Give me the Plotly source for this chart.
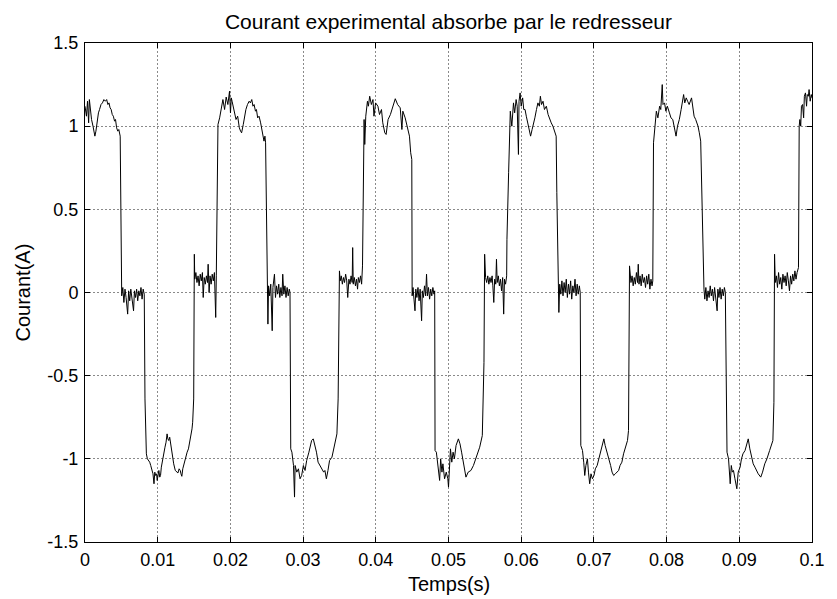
import plotly.graph_objects as go

# Measured line current of the rectifier: (time in ms, current in A) per half-cycle segment
pos_0 = [(0.0, 1.12), (0.2, 1.06), (0.35, 1.15), (0.5, 1.02), (0.6, 1.16), (0.75, 1.08), (0.9, 1.04),
         (1.1, 1.0), (1.25, 0.96), (1.36, 0.94), (1.5, 0.97), (1.7, 1.05), (1.85, 1.08), (2.0, 1.1),
         (2.2, 1.13), (2.4, 1.14), (2.6, 1.16), (2.8, 1.15), (2.98, 1.16), (3.15, 1.13), (3.3, 1.14),
         (3.45, 1.11), (3.6, 1.1), (3.75, 1.07), (3.9, 1.06), (4.07, 1.03), (4.2, 1.04), (4.35, 0.99),
         (4.51, 0.97), (4.65, 0.98), (4.84, 0.94), (5.05, -0.02)]
zero_1 = [(5.2, 0.03), (5.35, -0.06), (5.5, 0.02), (5.65, -0.03), (5.87, -0.13), (6.0, 0.01), (6.15, -0.05),
          (6.3, 0.02), (6.45, -0.04), (6.68, -0.11), (6.8, 0.01), (6.95, -0.03), (7.1, 0.02), (7.25, -0.05),
          (7.4, 0.01), (7.55, -0.02), (7.7, 0.03), (7.85, -0.04), (8.0, 0.02), (8.15, -0.01),
          (8.25, -0.64), (8.33, -0.85), (8.44, -0.97)]
neg_1 = [(8.58, -1.0), (8.9, -1.02), (9.04, -1.04), (9.2, -1.06), (9.35, -1.09), (9.49, -1.15), (9.6, -1.08),
         (9.72, -1.1), (9.85, -1.09), (9.93, -1.13), (10.05, -1.08), (10.16, -1.07), (10.28, -1.11),
         (10.39, -1.10), (10.5, -1.05), (10.61, -1.02), (10.84, -0.96), (11.0, -0.93), (11.15, -0.90),
         (11.29, -0.85), (11.4, -0.88), (11.52, -0.89), (11.65, -0.87), (11.88, -0.94), (12.05, -0.99),
         (12.2, -1.03), (12.42, -1.07), (12.6, -1.08), (12.78, -1.085), (12.95, -1.06), (13.1, -1.07),
         (13.2, -1.09), (13.32, -1.105), (13.45, -1.06), (13.55, -1.04), (13.7, -1.01), (13.86, -0.99),
         (14.05, -0.96), (14.23, -0.94), (14.4, -0.9), (14.59, -0.86), (14.72, -0.82), (14.81, -0.78),
         (14.95, -0.64), (15.04, 0.23)]
zero_2 = [(15.1, 0.08), (15.25, 0.12), (15.4, 0.06), (15.55, 0.1), (15.7, 0.04), (15.85, 0.11), (16.0, 0.07),
          (16.15, 0.12), (16.26, -0.03), (16.4, 0.09), (16.55, 0.05), (16.7, 0.1), (16.85, 0.06), (16.94, 0.17),
          (17.07, 0.0), (17.2, 0.1), (17.35, 0.05), (17.5, 0.11), (17.65, 0.07), (17.8, 0.12), (17.98, -0.15),
          (18.06, 0.1), (18.29, 1.01)]
pos_1 = [(18.52, 1.05), (18.74, 1.12), (18.97, 1.16), (19.2, 1.10), (19.42, 1.175), (19.65, 1.13), (19.88, 1.21),
         (20.01, 1.08), (20.12, 1.17), (20.23, 1.15), (20.4, 1.12), (20.55, 1.09), (20.77, 1.04), (21.0, 1.06),
         (21.23, 0.99), (21.4, 0.97), (21.54, 0.96), (21.77, 1.01), (21.95, 1.06), (22.13, 1.10), (22.35, 1.13),
         (22.58, 1.15), (22.75, 1.14), (22.94, 1.16), (23.1, 1.12), (23.26, 1.13), (23.45, 1.09), (23.58, 1.10),
         (23.75, 1.05), (23.94, 1.06), (24.16, 1.02), (24.3, 0.99), (24.39, 0.97), (24.55, 0.93), (24.62, 0.91),
         (24.75, 0.94), (24.84, 0.90), (25.16, -0.19)]
zero_3 = [(25.25, 0.04), (25.4, -0.02), (25.55, 0.05), (25.75, -0.23), (25.85, 0.03), (26.06, 0.11), (26.2, -0.03),
          (26.35, 0.04), (26.5, -0.01), (26.65, 0.05), (26.8, -0.03), (26.95, 0.03), (27.1, -0.02), (27.2, 0.11),
          (27.35, -0.01), (27.5, 0.04), (27.65, -0.03), (27.8, 0.03), (27.95, -0.02), (28.1, 0.02), (28.2, 0.0),
          (28.3, -0.94)]
neg_2 = [(28.46, -0.96), (28.68, -1.04), (28.82, -1.23), (28.9, -1.04), (29.13, -1.08), (29.36, -1.06),
         (29.58, -1.12), (29.8, -1.10), (30.04, -1.04), (30.27, -1.07), (30.49, -1.01), (30.8, -0.96),
         (31.17, -0.89), (31.4, -0.88), (31.6, -0.91), (31.84, -0.96), (32.06, -1.02), (32.3, -1.04),
         (32.52, -1.06), (32.83, -1.08), (33.0, -1.07), (33.2, -1.12), (33.42, -1.07), (33.64, -1.01),
         (33.97, -0.99), (34.15, -0.95), (34.32, -0.92), (34.5, -0.88), (34.65, -0.85), (34.82, -0.64),
         (35.0, 0.13)]
zero_4 = [(35.1, 0.07), (35.25, 0.1), (35.4, 0.05), (35.55, 0.09), (35.7, 0.06), (35.85, 0.11), (36.0, 0.07),
          (36.14, -0.03), (36.3, 0.08), (36.45, 0.05), (36.6, 0.1), (36.75, 0.06), (36.82, 0.27), (36.9, 0.05),
          (37.05, 0.09), (37.2, 0.04), (37.35, 0.08), (37.49, 0.02), (37.6, 0.09), (37.75, 0.06), (37.9, 0.1),
          (38.05, 0.05), (38.17, 0.16), (38.3, 1.02)]
pos_2 = [(38.39, 1.04), (38.48, 0.89), (38.62, 1.06), (38.85, 1.15), (38.98, 1.12), (39.16, 1.18), (39.39, 1.13),
         (39.61, 1.16), (39.75, 1.06), (39.97, 1.14), (40.29, 1.12), (40.51, 1.07), (40.78, 1.10), (40.96, 1.02),
         (41.24, 0.96), (41.42, 0.95), (41.69, 1.04), (42.01, 1.07), (42.32, 1.11), (42.68, 1.165), (43.0, 1.13),
         (43.36, 1.11), (43.59, 0.98), (43.72, 1.09), (44.04, 1.05), (44.35, 0.99), (44.63, 0.94), (44.8, 0.84),
         (44.95, 0.80), (45.0, -0.02)]
zero_5 = [(45.12, 0.03), (45.25, -0.04), (45.39, -0.11), (45.5, 0.02), (45.65, -0.03), (45.8, 0.03), (45.95, -0.05),
          (46.1, 0.02), (46.3, -0.17), (46.4, 0.01), (46.55, -0.03), (46.7, 0.04), (46.85, -0.02), (46.98, 0.11),
          (47.1, -0.02), (47.25, 0.03), (47.4, -0.04), (47.55, 0.02), (47.7, -0.02), (47.85, 0.03), (48.0, -0.01),
          (48.1, 0.01), (48.15, -0.95)]
neg_3 = [(48.33, -0.96), (48.55, -1.04), (48.78, -1.13), (48.92, -1.0), (49.1, -1.08), (49.23, -1.03),
         (49.46, -1.12), (49.69, -1.08), (49.91, -1.12), (50.0, -1.17), (50.14, -1.02), (50.27, -0.94),
         (50.45, -1.02), (50.63, -0.96), (50.81, -1.0), (51.04, -0.92), (51.36, -0.88), (51.58, -0.91),
         (51.8, -0.96), (52.07, -1.04), (52.4, -1.11), (52.71, -1.08), (53.08, -1.07), (53.43, -1.04),
         (53.75, -1.0), (53.97, -0.98), (54.29, -0.93), (54.65, -0.86), (54.88, -0.42), (54.97, 0.23)]
zero_6 = [(55.1, 0.09), (55.25, 0.06), (55.4, 0.1), (55.55, 0.05), (55.7, 0.09), (55.85, 0.06), (56.0, 0.1),
          (56.1, 0.04), (56.23, -0.06), (56.35, 0.08), (56.5, 0.05), (56.6, 0.2), (56.7, 0.06), (56.85, 0.1),
          (57.0, 0.04), (57.15, 0.08), (57.3, 0.01), (57.45, 0.09), (57.59, -0.13), (57.7, 0.08), (57.85, 0.05),
          (58.0, 0.1), (58.04, 0.32), (58.27, 0.72), (58.4, 0.98)]
pos_3 = [(58.5, 1.09), (58.71, 1.0), (58.94, 1.14), (59.1, 1.08), (59.3, 1.16), (59.45, 1.12), (59.62, 0.83),
         (59.7, 1.15), (59.85, 1.2), (60.0, 1.12), (60.2, 1.17), (60.35, 1.1), (60.53, 1.10), (60.7, 1.06),
         (60.9, 1.02), (61.1, 0.98), (61.29, 0.94), (61.5, 0.98), (61.7, 1.03), (61.88, 1.05), (62.1, 1.1),
         (62.3, 1.14), (62.5, 1.12), (62.64, 1.18), (62.8, 1.13), (63.0, 1.15), (63.2, 1.1), (63.46, 1.12),
         (63.7, 1.07), (63.9, 1.04), (64.13, 1.02), (64.36, 1.0), (64.55, 0.97), (64.73, 0.94), (64.81, 0.94),
         (64.9, 0.6), (65.18, -0.12)]
zero_7 = [(65.3, 0.05), (65.45, -0.01), (65.6, 0.07), (65.75, -0.02), (65.9, 0.06), (66.05, 0.0), (66.2, 0.08),
          (66.35, -0.03), (66.5, 0.05), (66.65, -0.01), (66.8, 0.07), (66.95, -0.04), (67.1, 0.04), (67.25, 0.0),
          (67.4, 0.08), (67.55, -0.02), (67.7, 0.05), (67.85, -0.01), (68.0, 0.04), (68.12, 0.0), (68.2, -0.92)]
neg_4 = [(68.43, -0.95), (68.6, -1.02), (68.74, -1.1), (68.9, -1.04), (69.11, -1.0), (69.25, -1.08),
         (69.42, -1.15), (69.6, -1.09), (69.8, -1.12), (70.01, -1.1), (70.2, -1.06), (70.45, -1.04),
         (70.69, -1.0), (70.9, -0.96), (71.1, -0.92), (71.37, -0.88), (71.55, -0.92), (71.8, -0.96),
         (72.05, -0.99), (72.3, -1.04), (72.5, -1.08), (72.72, -1.1), (72.95, -1.09), (73.2, -1.08),
         (73.4, -1.07), (73.6, -1.04), (73.85, -1.02), (74.08, -0.97), (74.3, -0.94), (74.5, -0.9),
         (74.62, -0.89), (74.76, -0.83), (74.9, 0.16)]
zero_8 = [(75.1, 0.06), (75.25, 0.1), (75.4, 0.04), (75.55, 0.09), (75.7, 0.05), (75.85, 0.12), (76.0, 0.06),
          (76.1, 0.17), (76.2, 0.05), (76.35, 0.1), (76.5, 0.04), (76.65, 0.11), (76.8, 0.06), (76.95, 0.09),
          (77.1, 0.03), (77.25, 0.1), (77.4, 0.05), (77.55, 0.11), (77.7, 0.02), (77.85, 0.08), (78.0, 0.04),
          (78.1, 0.07), (78.2, 0.9)]
pos_4 = [(78.36, 0.99), (78.5, 1.06), (78.59, 1.09), (78.8, 1.05), (79.04, 1.12), (79.2, 1.1), (79.4, 1.25),
         (79.5, 1.13), (79.72, 1.14), (79.9, 1.09), (80.1, 1.12), (80.39, 1.08), (80.6, 1.05), (80.85, 1.04),
         (81.05, 0.99), (81.3, 0.94), (81.5, 1.0), (81.75, 1.04), (82.0, 1.1), (82.34, 1.19), (82.5, 1.14),
         (82.7, 1.17), (82.89, 1.15), (83.1, 1.13), (83.43, 1.17), (83.6, 1.1), (83.78, 1.06), (84.0, 1.04),
         (84.32, 1.0), (84.5, 0.96), (84.69, 0.91), (85.14, 0.02)]
zero_9 = [(85.25, -0.04), (85.4, 0.03), (85.55, -0.05), (85.7, 0.01), (85.85, -0.03), (86.0, 0.04), (86.15, -0.02),
          (86.3, 0.02), (86.45, -0.05), (86.6, 0.03), (86.75, -0.02), (86.95, -0.11), (87.05, 0.02), (87.2, -0.03),
          (87.35, 0.03), (87.5, -0.04), (87.65, 0.02), (87.8, -0.02), (87.95, 0.03), (88.08, 0.0), (88.31, -0.96)]
neg_5 = [(88.52, -1.0), (88.75, -1.15), (88.9, -1.04), (89.05, -1.08), (89.2, -1.07), (89.4, -1.12),
         (89.66, -1.18), (89.85, -1.08), (90.11, -1.05), (90.3, -1.0), (90.5, -0.97), (90.79, -0.95),
         (91.0, -0.91), (91.23, -0.88), (91.45, -0.94), (91.7, -0.98), (91.91, -1.03), (92.15, -1.05),
         (92.37, -1.07), (92.6, -1.09), (92.95, -1.11), (93.2, -1.08), (93.5, -1.03), (93.8, -1.0),
         (94.17, -0.95), (94.4, -0.91), (94.62, -0.89), (94.76, -0.66), (94.85, 0.23)]
zero_10 = [(94.95, 0.06), (95.1, 0.1), (95.25, 0.03), (95.4, 0.12), (95.55, 0.05), (95.7, 0.09), (95.85, 0.02),
           (96.0, 0.11), (96.15, 0.06), (96.3, 0.1), (96.45, 0.04), (96.6, 0.12), (96.75, 0.07), (96.9, 0.01),
           (97.05, 0.1), (97.2, 0.05), (97.35, 0.11), (97.5, 0.07), (97.65, 0.13), (97.8, 0.08), (97.95, 0.12),
           (98.14, 0.15), (98.24, 1.0)]
pos_5 = [(98.33, 1.04), (98.45, 1.0), (98.55, 1.12), (98.7, 1.13), (98.85, 1.05), (98.95, 1.18), (99.1, 1.2),
         (99.25, 1.12), (99.35, 1.19), (99.5, 1.18), (99.6, 1.22), (99.75, 1.15), (99.9, 1.19), (100.0, 1.17)]

segments = [pos_0, zero_1, neg_1, zero_2, pos_1, zero_3, neg_2, zero_4, pos_2, zero_5,
            neg_3, zero_6, pos_3, zero_7, neg_4, zero_8, pos_4, zero_9, neg_5, zero_10, pos_5]

x_tick_vals = [0, 0.01, 0.02, 0.03, 0.04, 0.05, 0.06, 0.07, 0.08, 0.09, 0.1]
x_tick_text = ["0", "0.01", "0.02", "0.03", "0.04", "0.05", "0.06", "0.07", "0.08", "0.09", "0.1"]
y_tick_vals = [-1.5, -1, -0.5, 0, 0.5, 1, 1.5]
y_tick_text = ["-1.5", "-1", "-0.5", "0", "0.5", "1", "1.5"]

time_s = [t / 1000.0 for seg in segments for t, _ in seg]
current = [i for seg in segments for _, i in seg]

font_family = "Liberation Sans, Arial, Helvetica, sans-serif"
tick_size = 18
label_size = 20
title_size = 21

fig = go.Figure()
fig.add_trace(go.Scatter(
    x=time_s, y=current, mode="lines",
    line=dict(color="black", width=1),
    showlegend=False, hoverinfo="skip",
))

axis_common = dict(
    showline=True, linecolor="black", linewidth=1, mirror="allticks",
    ticks="inside", ticklen=5, tickwidth=1, tickcolor="black",
    showgrid=True, gridcolor="#8a8a8a", gridwidth=1, griddash="2px,2px",
    zeroline=False,
    tickfont=dict(family=font_family, size=tick_size, color="black"),
)

fig.update_xaxes(range=[0, 0.1], tickvals=x_tick_vals, ticktext=x_tick_text,
                 ticklabelstandoff=1, **axis_common)
fig.update_yaxes(range=[-1.5, 1.5], tickvals=y_tick_vals, ticktext=y_tick_text,
                 ticklabelstandoff=2, **axis_common)

fig.update_layout(
    width=837, height=599,
    margin=dict(l=85, r=13, t=43, b=57),
    paper_bgcolor="white", plot_bgcolor="white",
    title=dict(
        text="Courant experimental absorbe par le redresseur",
        x=0.5, xref="paper", xanchor="center",
        y=1 - 22 / 599, yref="container", yanchor="middle",
        font=dict(family=font_family, size=title_size, color="black"),
    ),
    annotations=[
        dict(text="Temps(s)", xref="paper", yref="paper", x=0.5, y=0,
             xanchor="center", yanchor="middle", yshift=-42, showarrow=False,
             font=dict(family=font_family, size=label_size, color="black")),
        dict(text="Courant(A)", xref="paper", yref="paper", x=0, y=0.5,
             xanchor="center", yanchor="middle", xshift=-63, textangle=-90, showarrow=False,
             font=dict(family=font_family, size=label_size, color="black")),
    ],
)

fig.write_html("out.html")
